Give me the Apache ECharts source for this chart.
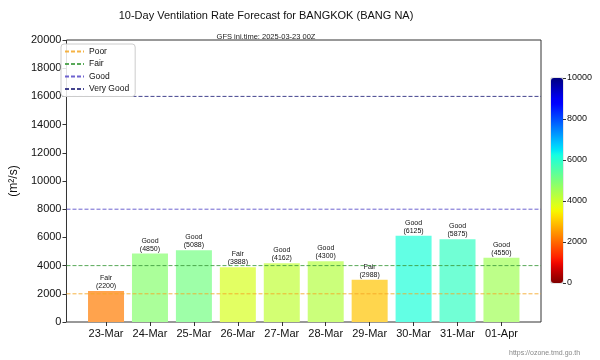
<!DOCTYPE html>
<html><head><meta charset="utf-8">
<script src="https://cdn.jsdelivr.net/npm/echarts@6/dist/echarts.min.js"></script>
<style>html,body{margin:0;padding:0;background:#fff}#c{width:600px;height:360px}</style>
</head><body><div id="c"></div>
<script>
const categories = ['23-Mar','24-Mar','25-Mar','26-Mar','27-Mar','28-Mar','29-Mar','30-Mar','31-Mar','01-Apr'];
const ventValues = [2200, 4850, 5088, 3888, 4162, 4300, 2988, 6125, 5875, 4550];
const ratings = ['Fair','Good','Good','Fair','Good','Good','Fair','Good','Good','Good'];
const thresholdNames = ['Poor','Fair','Good','Very Good'];
const thresholdValues = [2000, 4000, 8000, 16000];

const thresholdColors = ['#f5a623','#3c9a3c','#5548c8','#23237a'];
const FONT = 'Liberation Sans, Arial, sans-serif';

function interp(pts, x){
  for(let i=0;i<pts.length-1;i++){
    const [x0,y0]=pts[i],[x1,y1]=pts[i+1];
    if(x>=x0 && x<=x1){return y0+(y1-y0)*(x-x0)/(x1-x0);}
  }
  return pts[pts.length-1][1];
}
function jetRGB(t){
  return [
    interp([[0,0],[0.35,0],[0.66,1],[0.89,1],[1,0.5]],t),
    interp([[0,0],[0.125,0],[0.375,1],[0.64,1],[0.91,0],[1,0]],t),
    interp([[0,0.5],[0.11,1],[0.34,1],[0.65,0],[1,0]],t)
  ];
}
function hex(rgb, alpha){
  const h=v=>Math.round((v*alpha+(1-alpha))*255).toString(16).padStart(2,'0');
  return '#'+rgb.map(h).join('');
}
const jetR=[], jetRFaded=[];
for(let i=0;i<=40;i++){const c=jetRGB(1-i/40); jetR.push(hex(c,1)); jetRFaded.push(hex(c,0.7));}

const idx = categories.map((c,i)=>i);
const xMin=-0.9, xMax=categories.length-1+0.9;

const chart = echarts.init(document.getElementById('c'), null, {renderer:'canvas'});
const series = [{
  type:'bar',
  xAxisIndex:0, yAxisIndex:0,
  data: ventValues.map((v,i)=>[i,v]),
  barWidth:36,
  label:{show:true, position:'top', distance:1, fontSize:7, lineHeight:8, color:'#111', fontFamily:FONT,
    formatter:p=>ratings[p.dataIndex]+'\n('+ventValues[p.dataIndex]+')'},
  z:2
}];
thresholdNames.forEach((n,k)=>{
  series.push({
    type:'line', name:n, xAxisIndex:0, yAxisIndex:0,
    data:[[xMin,thresholdValues[k]],[xMax,thresholdValues[k]]],
    symbol:'none', silent:true,
    lineStyle:{type:[4,2], width:1, color:thresholdColors[k], opacity:0.85},
    itemStyle:{color:thresholdColors[k]},
    z:3
  });
});
series.push({type:'line', xAxisIndex:1, yAxisIndex:1, data:[], symbol:'none'});

chart.setOption({
  animation:false,
  backgroundColor:'#fff',
  title:[
    {text:'10-Day Ventilation Rate Forecast for BANGKOK (BANG NA)', left:261, top:5, textAlign:'center',
     textStyle:{fontSize:11, fontWeight:'normal', color:'#111', fontFamily:FONT}},
    {text:'GFS ini.time: 2025-03-23 00Z', left:261, top:28, textAlign:'center',
     textStyle:{fontSize:7.5, fontWeight:'normal', color:'#222', fontFamily:FONT}},
    {text:'https://ozone.tmd.go.th', left:504, top:345,
     textStyle:{fontSize:7, fontWeight:'normal', color:'#888', fontFamily:FONT}}
  ],
  legend:{
    orient:'vertical', left:61, top:44, data:thresholdNames,
    itemWidth:19, itemHeight:8, itemGap:3.5,
    padding:[3,6,3,3], borderColor:'#ccc', borderWidth:1, borderRadius:3,
    backgroundColor:'rgba(255,255,255,0.85)',
    itemStyle:{opacity:0},
    textStyle:{fontSize:8.5, color:'#111', fontFamily:FONT}
  },
  grid:[
    {left:57, top:40, width:484, height:282, show:true, borderColor:'#333', borderWidth:1, backgroundColor:'transparent'},
    {left:551, top:78, width:12, height:205, show:true, borderColor:'#999', borderWidth:0.5}
  ],
  xAxis:[
    {type:'value', gridIndex:0, min:xMin, max:xMax,
     axisLine:{show:false, onZero:false}, splitLine:{show:false},
     axisTick:{show:true, customValues:idx, length:4, lineStyle:{color:'#333'}},
     axisLabel:{show:true, customValues:idx, formatter:v=>categories[Math.round(v)], fontSize:11, color:'#111', margin:6, fontFamily:FONT}},
    {type:'value', gridIndex:1, min:0, max:1, show:false}
  ],
  yAxis:[
    {type:'value', gridIndex:0, min:0, max:20000, interval:2000,
     name:'(m²/s)', nameLocation:'middle', nameGap:39, nameRotate:90,
     nameTextStyle:{fontSize:12, color:'#111', fontFamily:FONT},
     axisLine:{show:false, onZero:false}, splitLine:{show:false},
     axisTick:{show:true, length:4, lineStyle:{color:'#333'}},
     axisLabel:{fontSize:11, color:'#111', margin:5, fontFamily:FONT, formatter:v=>String(v)}},
    {type:'value', gridIndex:1, position:'right', min:0, max:10000, interval:2000,
     axisLine:{show:false, onZero:false}, splitLine:{show:false},
     axisTick:{show:true, length:3, lineStyle:{color:'#333'}},
     axisLabel:{fontSize:9, color:'#111', margin:4, fontFamily:FONT, formatter:v=>String(v)}}
  ],
  visualMap:[
    {type:'continuous', min:0, max:10000, seriesIndex:0, dimension:1,
     calculable:false, realtime:false, show:false,
     inRange:{color:jetRFaded}},
    {type:'continuous', min:0, max:10000, seriesIndex:5, dimension:1,
     calculable:false, realtime:false, show:true,
     left:551, top:78, itemWidth:12, itemHeight:205, padding:0,
     text:null, showLabel:false,
     inRange:{color:jetR}}
  ],
  series:series
});
</script></body></html>
